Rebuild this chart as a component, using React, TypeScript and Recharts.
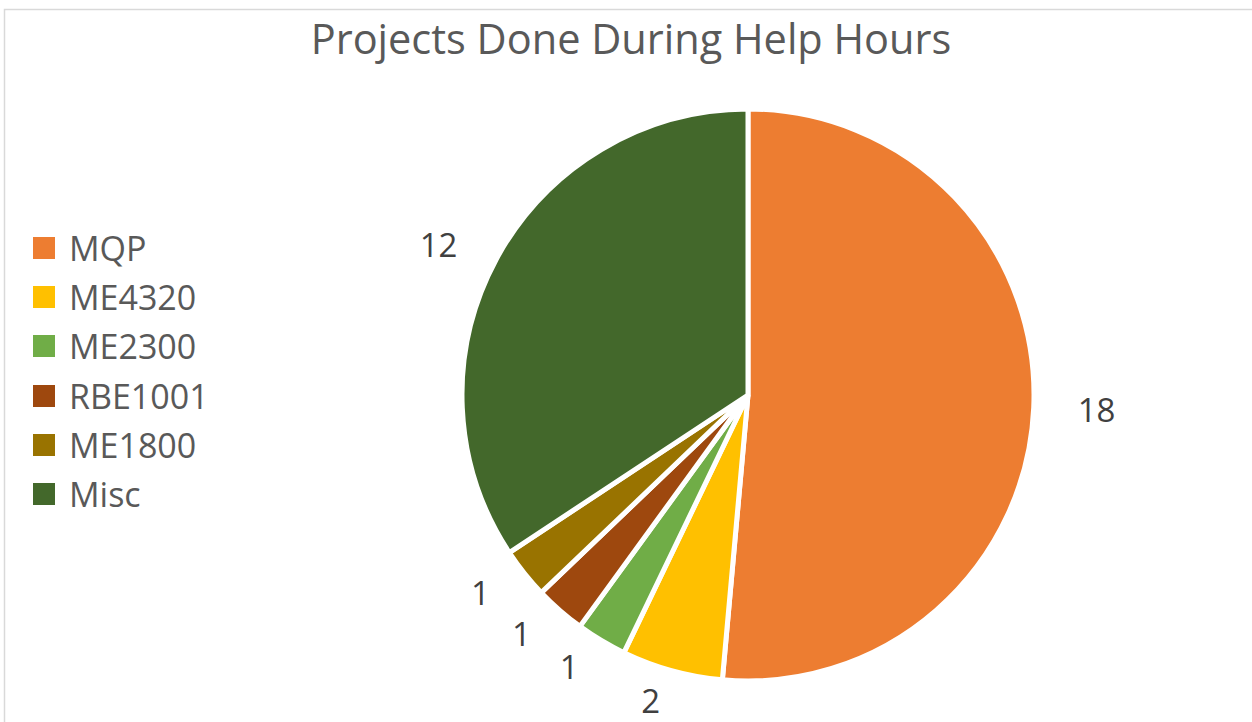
import React from 'react';
import { PieChart, Pie, Cell, Legend } from 'recharts';

const categories = ['MQP', 'ME4320', 'ME2300', 'RBE1001', 'ME1800', 'Misc'];
const values = [18, 2, 1, 1, 1, 12];
const colors = ['#ED7D31', '#FFC000', '#70AD47', '#9E480E', '#997300', '#43682B'];
const title = 'Projects Done During Help Hours';

const data = categories.map((name, i) => ({ name, value: values[i] }));

const FONT = '"Open Sans", sans-serif';

const renderLabel = (props: any) => {
  const { cx, cy, midAngle, outerRadius, value } = props;
  const RAD = Math.PI / 180;
  const r = outerRadius + 44;
  const c = Math.cos(-midAngle * RAD);
  const s = Math.sin(-midAngle * RAD);
  const x = cx + r * c;
  const y = cy + r * s * 0.96;
  return (
    <text
      x={x}
      y={y}
      textAnchor={c >= 0 ? 'start' : 'end'}
      dominantBaseline="central"
      fill="#404040"
      fontSize={33}
      fontFamily={FONT}
    >
      {value}
    </text>
  );
};

const LegendContent = () => (
  <div style={{ fontFamily: FONT }}>
    {categories.map((c, i) => (
      <div key={c} style={{ display: 'flex', alignItems: 'center', height: 49.3 }}>
        <div style={{ width: 22, height: 22, background: colors[i], marginRight: 14 }} />
        <span style={{ fontSize: 34, color: '#595959', lineHeight: 1 }}>{c}</span>
      </div>
    ))}
  </div>
);

export default function App() {
  return (
    <div style={{ position: 'absolute', left: 0, top: 0, width: 1252, height: 722, background: '#fff', overflow: 'hidden' }}>
      <svg style={{ position: 'absolute', left: 0, top: 0 }} width={1252} height={722}>
        <rect x={4.5} y={9.5} width={1300} height={800} fill="none" stroke="#d9d9d9" strokeWidth={1.5} />
        <text x={631} y={54} textAnchor="middle" fill="#595959" fontSize={41.5} fontFamily={FONT}>
          {title}
        </text>
      </svg>
      <div style={{ position: 'absolute', left: 0, top: 0 }}>
        <PieChart width={1252} height={722} margin={{ top: 0, right: 0, bottom: 0, left: 0 }}>
          <Pie
            data={data}
            dataKey="value"
            nameKey="name"
            cx={748}
            cy={395}
            outerRadius={286}
            startAngle={90}
            endAngle={-270}
            stroke="#ffffff"
            strokeWidth={5}
            label={renderLabel}
            labelLine={false}
            isAnimationActive={false}
          >
            {data.map((d, i) => (
              <Cell key={d.name} fill={colors[i]} />
            ))}
          </Pie>
          <Legend
            layout="vertical"
            content={<LegendContent />}
            wrapperStyle={{ position: 'absolute', left: 33, top: 223, width: 250 }}
          />
        </PieChart>
      </div>
    </div>
  );
}
